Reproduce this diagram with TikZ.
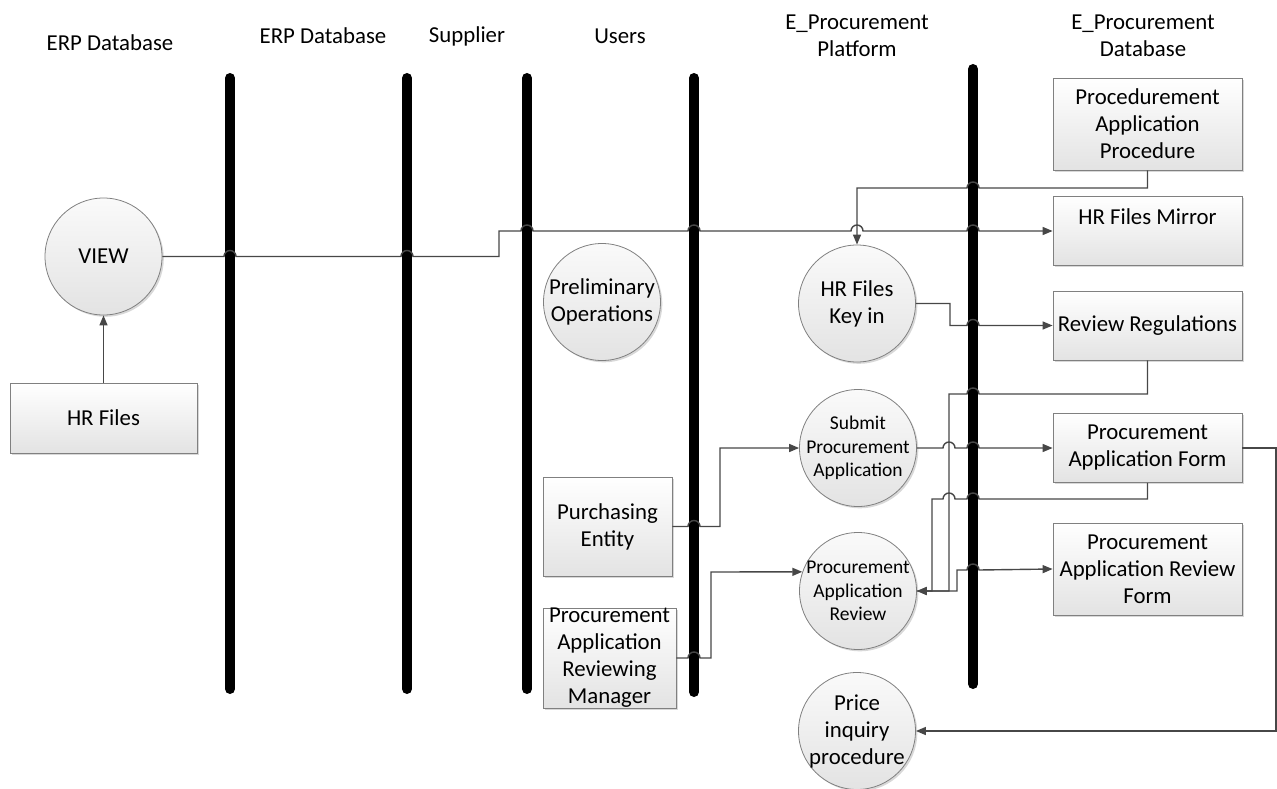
\documentclass[tikz,border=0pt]{standalone}
\usepackage{fontspec}
\setmainfont{Carlito}
\usetikzlibrary{arrows.meta,shadows}

\begin{document}
\begin{tikzpicture}[x=1pt,y=1pt,
  every node/.style={font=\fontsize{22.8}{27}\selectfont, align=center, inner sep=0pt},
  lane/.style={line width=10pt, line cap=round, black},
  conn/.style={draw=black!72, line width=1.4pt},
  tip/.style={-{Triangle[length=10pt,width=8pt]}},
  shade/.style={drop shadow={shadow xshift=1.8pt, shadow yshift=-1.8pt, fill=black!30, opacity=0.5}},
  proc/.style={circle, draw=black!50, line width=0.8pt, minimum size=117pt, inner sep=-20pt,
    top color=black!2, bottom color=black!11, shade},
  store/.style={rectangle, draw=black!50, line width=0.8pt, inner sep=-10pt,
    top color=white, bottom color=black!11, shade},
  dbbox/.style={store, minimum width=189pt},
  small/.style={font=\fontsize{19.5}{23.5}\selectfont},
]
\useasboundingbox (0,0) rectangle (1277,-789);

% lane headings
\node (h1) at (110,-43) {ERP Database};
\node (h2) at (323,-36) {ERP Database};
\node (h3) at (467,-36) {Supplier};
\node (h4) at (620,-36) {Users};
\node (h5) at (857,-36) {E\_Procurement\\Platform};
\node (h6) at (1143,-36) {E\_Procurement\\Database};

% lane separators
\draw[lane] (230,-78) -- (230,-689);
\draw[lane] (407,-78) -- (407,-689);
\draw[lane] (527,-78) -- (527,-689);
\draw[lane] (694,-78) -- (694,-692);
\draw[lane] (973,-69) -- (973,-684);

% processes
\node[proc] (view) at (103.5,-256.5) {VIEW};
\node[proc] (prelim) at (602,-302) {Preliminary\\Operations};
\node[proc] (keyin) at (857,-303.5) {HR Files\\Key in};
\node[proc, small] (submit) at (858,-448) {Submit\\Procurement\\Application};
\node[proc, small] (review) at (858,-591) {Procurement\\Application\\Review};
\node[proc] (price) at (857,-731) {Price\\inquiry\\procedure};

% data stores and entities
\node[store, minimum width=187pt, minimum height=70pt] (hrfiles) at (103.5,-418) {HR Files};
\node[store, minimum width=129pt, minimum height=99pt] (purch) at (607.5,-526.5) {Purchasing\\Entity};
\node[store, minimum width=133pt, minimum height=100pt] (manager) at (609.5,-658) {Procurement\\Application\\Reviewing\\Manager};
\node[dbbox, minimum height=92pt] (procbox) at (1147.5,-124) {Procedurement\\Application\\Procedure};
\node[dbbox, minimum height=69pt] (mirror) at (1147.5,-230.5) {HR Files Mirror\\\mbox{}};
\node[dbbox, minimum height=69pt] (regs) at (1147.5,-325.5) {Review Regulations};
\node[dbbox, minimum height=69pt] (form) at (1147.5,-448) {Procurement\\Application Form};
\node[dbbox, minimum height=92pt] (rform) at (1147.5,-569) {Procurement\\Application Review\\Form};

% flows
\draw[conn, tip] (hrfiles) -- (view);

\draw[conn, tip] (view.east) -- (224,-256.5) arc (180:0:6pt) -- (401,-256.5) arc (180:0:6pt)
  -- (499,-256.5) -- (499,-231) -- (521,-231) arc (180:0:6pt) -- (688,-231) arc (180:0:6pt)
  -- (851,-231) arc (180:0:6pt) -- (967,-231) arc (180:0:6pt) -- (mirror.west |- 0,-231);

\draw[conn, tip] (procbox.south) -- (1147.5,-188) -- (979,-188) arc (0:180:6pt)
  -- (857,-188) -- (keyin.north);

\draw[conn, tip] (keyin.east) -- (950,-303.5) -- (950,-325.5) -- (967,-325.5) arc (180:0:6pt)
  -- (regs.west);

\draw[conn, tip] (purch.east) -- (688,-526.5) arc (180:0:6pt) -- (720,-526.5) -- (720,-448)
  -- (submit.west);

\draw[conn, tip] (manager.east) -- (688,-658) arc (180:0:6pt) -- (711,-658) -- (711,-572)
  -- (review.161);

\draw[conn, tip] (submit.east) -- (943,-448) arc (180:0:6pt) -- (967,-448) arc (180:0:6pt)
  -- (form.west);

\draw[conn, tip] (regs.south) -- (1147.5,-394) -- (979,-394) arc (0:180:6pt) -- (949,-394)
  -- (949,-591) -- (review.east);

\draw[conn, tip] (form.south) -- (1147.5,-499) -- (979,-499) arc (0:180:6pt) -- (955,-499)
  arc (0:180:6pt) -- (932,-499) -- (932,-591) -- (review.east);

\draw[conn, tip] (review.east) -- (957,-591) -- (957,-570) -- (967,-570) arc (180:0:6pt)
  -- (rform.west);

\draw[conn, tip] (form.east) -- (1276,-448) -- (1276,-731) -- (price.east);
\end{tikzpicture}
\end{document}
